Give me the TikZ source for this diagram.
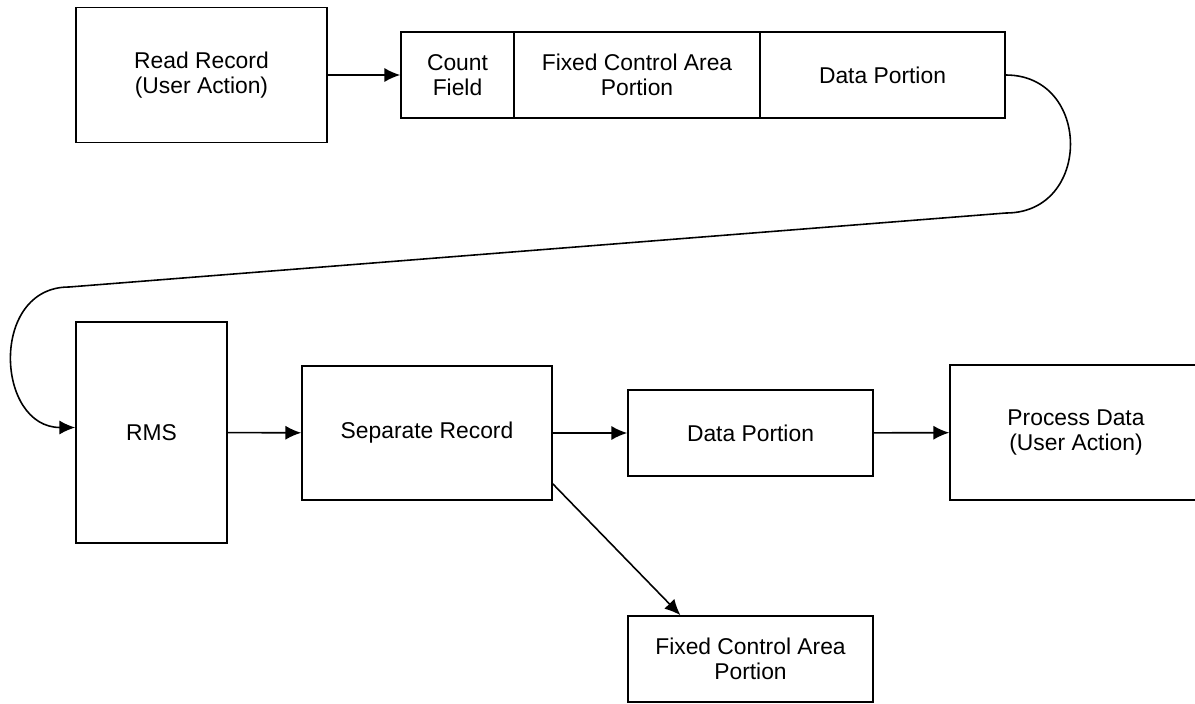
\documentclass[tikz,border=0pt]{standalone}
\usepackage{fontspec}
\setmainfont{Liberation Sans}
\usetikzlibrary{arrows.meta}
\usetikzlibrary{positioning}

\tikzset{
  box/.style={draw, line width=0.9pt, align=center, inner sep=0pt,
    font=\fontsize{13}{14}\selectfont},
  link/.style={line width=0.9pt, ->}
}

\begin{document}
\begin{tikzpicture}[x=0.02cm, y=-0.02cm, >={Latex[length=9pt,width=8pt]}]
\useasboundingbox (0,0) rectangle (1195,703);

%Record as read
\node[box, minimum width=5.02cm, minimum height=2.7cm] (read) at (201.5, 75) {Read Record\\(User Action)};
\node[box, minimum width=2.26cm, minimum height=1.72cm] (count) at (457.5, 75) {Count\\Field};
\node[box, minimum width=4.92cm, minimum height=1.72cm] (fixed) at (637, 75) {Fixed Control Area\\Portion};
\node[box, minimum width=4.9cm, minimum height=1.72cm] (data) at (882.5, 75) {Data Portion};

\draw[link] (read) -- (count);

%Record split up
\node[box, minimum width=3.02cm, minimum height=4.42cm] (rms) at (151.5, 432.5) {RMS};
\node[box, minimum width=5cm, minimum height=2.68cm] (sep) at (427, 433) {Separate Record};
\node[box, minimum width=4.9cm, minimum height=1.72cm] (data2) at (750.5, 433) {Data Portion};
\node[box, minimum width=5.04cm, minimum height=2.7cm] (proc) at (1076, 432.5) {Process Data\\(User Action)};
\node[box, minimum width=4.9cm, minimum height=1.72cm] (fcap) at (750.5, 659) {Fixed Control Area\\Portion};

\coordinate (turnR) at (1006, 213);
\coordinate (turnL) at (69, 287);
\draw[link] (data.east) to[out=0, in=0, looseness=1.6] (turnR) -- (turnL)
  to[out=180, in=180, looseness=1.45] ([yshift=0.1cm]rms.west);

\draw[link] (rms) -- (sep);
\draw[link] (sep) -- (data2);
\draw[link] (data2) -- (proc);
\draw[link] (sep.-22.6) -- (fcap.148.5);
\end{tikzpicture}
\end{document}
